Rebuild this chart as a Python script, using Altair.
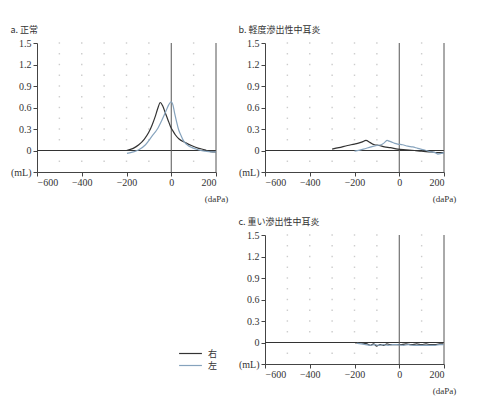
import altair as alt
import pandas as pd

# ---- data ----
EARS = ["右", "左"]
X_TICKS = [-600, -400, -200, 0, 200]
Y_TICKS = [-0.3, 0, 0.3, 0.6, 0.9, 1.2, 1.5]
GRID_X = [-500, -400, -300, -200, -100, 100]
GRID_Y = [-0.15, 0.15, 0.3, 0.45, 0.6, 0.75, 0.9, 1.05, 1.2, 1.35, 1.5]
V_LINES = [0, 200]

a_right_x = [-200, -170, -145, -120, -101, -85, -71, -60, -49, -38, -26, -15, -4, 8, 18, 35, 63, 90, 123, 150, 167, 185, 200]
a_right_y = [0.0, 0.03, 0.08, 0.16, 0.25, 0.36, 0.48, 0.59, 0.67, 0.62, 0.52, 0.43, 0.34, 0.27, 0.22, 0.16, 0.11, 0.07, 0.03, 0.01, -0.01, -0.02, -0.02]
a_left_x = [-198, -170, -145, -115, -86, -62, -41, -25, -11, -1, 8, 15, 24, 33, 45, 56, 75, 93, 120, 152, 175, 200]
a_left_y = [-0.04, -0.02, 0.01, 0.08, 0.2, 0.3, 0.43, 0.54, 0.64, 0.68, 0.63, 0.52, 0.4, 0.29, 0.2, 0.13, 0.07, 0.04, 0.01, -0.01, -0.02, -0.02]

b_right_x = [-300, -270, -231, -200, -186, -165, -149, -130, -111, -90, -66, -40, -7, 30, 68, 100, 143, 170, 200]
b_right_y = [0.02, 0.04, 0.07, 0.09, 0.1, 0.12, 0.14, 0.11, 0.08, 0.07, 0.05, 0.04, 0.02, 0.01, 0.0, -0.01, -0.02, -0.03, -0.03]
b_left_x = [-200, -160, -126, -100, -81, -66, -54, -45, -36, -20, -7, 15, 38, 60, 83, 110, 143, 160, 173, 188, 200]
b_left_y = [-0.01, 0.02, 0.05, 0.07, 0.08, 0.11, 0.14, 0.13, 0.12, 0.1, 0.09, 0.08, 0.06, 0.05, 0.03, 0.01, -0.02, -0.03, -0.05, -0.04, -0.03]

c_right_x = [-196, -185, -174, -160, -144, -130, -115, -100, -85, -70, -55, -41, -20, 4, 30, 55, 78, 100, 120, 137, 160, 180, 197]
c_right_y = [-0.01, 0.0, 0.0, -0.01, -0.02, -0.04, -0.02, -0.05, -0.03, -0.04, -0.02, -0.03, -0.03, -0.03, -0.02, -0.03, -0.02, -0.03, -0.02, -0.03, -0.03, -0.02, -0.02]
c_left_x = [-189, -170, -150, -130, -110, -90, -70, -50, -30, -11, 20, 40, 63, 90, 115, 137, 160, 180, 197]
c_left_y = [-0.01, -0.02, -0.03, -0.04, -0.03, -0.04, -0.03, -0.04, -0.03, -0.03, -0.04, -0.03, -0.04, -0.04, -0.04, -0.04, -0.04, -0.03, -0.03]

TITLES = ["a.  正常", "b.  軽度滲出性中耳炎", "c.  重い滲出性中耳炎"]

SERIF = "Liberation Serif"
CJK = "Noto Sans CJK JP"
W, H = 179, 129

xscale = alt.Scale(domain=[-600, 200], nice=False, zero=False)
yscale = alt.Scale(domain=[-0.3, 1.5], nice=False, zero=False)
xaxis = alt.Axis(values=X_TICKS, format="d", grid=False, labelFont=SERIF, labelFontSize=10,
                 labelColor="#333", tickSize=4, tickColor="#444", domainColor="#444",
                 labelPadding=1, title="(daPa)", titleFont=SERIF, titleFontSize=9,
                 titleFontWeight="normal", titleColor="#333", titleX=W, titleY=26,
                 titleAlign="center", titleBaseline="middle")
yaxis = alt.Axis(values=Y_TICKS, grid=False, labelFont=SERIF, labelFontSize=10, labelColor="#333",
                 labelExpr="datum.value < -0.2 ? '(mL)' : (datum.value == 0 ? '0' : format(datum.value, '.1f'))",
                 tickSize=4, tickColor="#444", domainColor="#444", labelPadding=2, title=None)


def X():
    return alt.X("x:Q", scale=xscale, axis=xaxis)


def Y():
    return alt.Y("y:Q", scale=yscale, axis=yaxis)


def panel(title, rx, ry, lx, ly):
    dots = pd.DataFrame([{"x": gx, "y": gy} for gx in GRID_X for gy in GRID_Y])
    curves = pd.DataFrame({"x": rx + lx, "y": ry + ly,
                           "ear": [EARS[0]] * len(rx) + [EARS[1]] * len(lx)})
    dot_layer = alt.Chart(dots).mark_square(size=2, color="#cccccc", opacity=1).encode(x=X(), y=Y())
    vlines = alt.Chart(pd.DataFrame({"x": V_LINES})).mark_rule(color="#555", strokeWidth=1).encode(x=X())
    zero = alt.Chart(pd.DataFrame({"y": [0]})).mark_rule(color="#333", strokeWidth=1.1).encode(y=Y())
    lines = alt.Chart(curves).mark_line(strokeWidth=1.2, interpolate="monotone").encode(
        x=X(), y=Y(),
        color=alt.Color("ear:N", scale=alt.Scale(domain=EARS, range=["#333333", "#86a3bd"]),
                        legend=alt.Legend(title=None, orient="none", legendX=147, legendY=304,
                                          symbolType="M-2,0H2", symbolSize=130, symbolStrokeWidth=1.2,
                                          labelFont=CJK, labelFontSize=9, labelColor="#333",
                                          rowPadding=0, labelOffset=11)),
        detail="ear:N")
    return alt.layer(dot_layer, zero, vlines, lines).properties(
        width=W, height=H,
        title=alt.TitleParams(title, anchor="start", font=CJK, fontSize=9, fontWeight="normal",
                              color="#333", offset=3))


a = panel(TITLES[0], a_right_x, a_right_y, a_left_x, a_left_y)
b = panel(TITLES[1], b_right_x, b_right_y, b_left_x, b_left_y)
c = panel(TITLES[2], c_right_x, c_right_y, c_left_x, c_left_y)
blank = alt.Chart(pd.DataFrame({"x": [0]})).mark_point(opacity=0).encode(
    x=alt.X("x:Q", axis=None), y=alt.Y("x:Q", axis=None)).properties(width=W, height=H)

chart = alt.concat(a, b, blank, c, columns=2, spacing={"row": 15, "column": 10}).configure(
    background="white", padding={"left": 2, "top": 18, "right": 5, "bottom": 5}).configure_view(
    stroke=None)

chart.save("out.html", embed_options={"renderer": "svg", "actions": False})
